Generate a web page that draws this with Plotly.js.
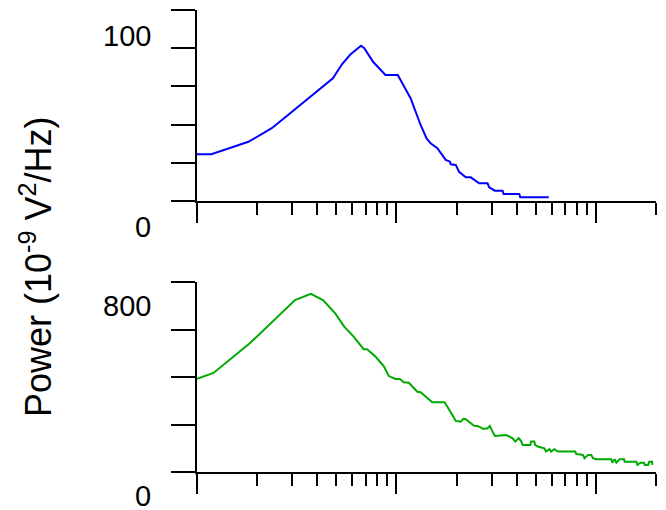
<!DOCTYPE html>
<html>
<head>
<meta charset="utf-8">
<script src="https://cdn.plot.ly/plotly-3.0.1.min.js"></script>
<style>html,body{margin:0;padding:0;background:#fff;}#chart{width:666px;height:510px;}</style>
</head>
<body>
<div id="chart"></div>
<script>
// Frequency (Hz, log axis) and power (10^-9 V^2/Hz)
var freqTop = [1.00,1.18,1.81,2.37,2.82,4.80,5.33,5.87,6.64,6.90,7.63,8.80,10.15,11.23,11.77,13.21,14.16,14.83,16.03,17.65,18.55,18.70,19.82,20.59,22.25,23.58,25.96,28.61,29.14,31.13,34.04,34.43,41.26,41.74,58.0];
var powerTop = [24.5,24.5,31.0,38.1,44.5,64.2,71.6,76.7,81.3,80.0,72.9,66.0,66.0,57.2,53.8,39.8,32.8,30.2,27.6,21.5,20.6,19.2,18.9,15.3,12.4,12.4,9.3,9.3,7.2,5.4,5.4,3.7,3.7,1.9,1.9];

var freqBot = [1.00,1.21,1.84,3.10,3.72,4.28,4.93,5.47,6.10,6.85,7.12,7.84,8.63,9.15,9.89,10.39,10.88,11.53,12.72,13.21,15.12,17.44,19.29,19.82,21.0,21.66,22.25,24.49,25.47,27.31,28.61,29.38,30.31,31.13,35.38,38.23,39.39,40.98,42.07,42.92,46.88,47.25,49.09,49.49,51.07,55.12,56.22,58.41,59.57,61.89,64.38,78.67,79.58,86.04,87.64,91.17,94.7,96.6,100.3,119.4,120.8,124.1,126.6,131.5,138.3,139.3,159.5,161.4,167.6,174.4,175.6,182.7,184.8,191.3,191.9];
var powerBot = [392,417,542,724,750,724,668,612,570,517,517,486,446,404,392,392,378,376,338,336,294,294,233,215,212,224,222,195,194,181,184,194,170,152,156,142,128,142,131,114,114,128,128,114,107,100,86,96,86,96,86,86,76,72,58,72,72,58,54,54,39,54,39,54,54,43,43,30,39,39,30,30,43,43,30];

var xMajor = [1, 10, 100];
var xMinor = [2,3,4,5,6,7,8,9,20,30,40,50,60,70,80,90,200];
var xMax = 200;
var topTicks = [0,20,40,60,80,100];
var botTicks = [0,200,400,600,800];
var topLabels = [{v:0,t:'0'},{v:100,t:'100'}];
var botLabels = [{v:0,t:'0'},{v:800,t:'800'}];
var yTitle = 'Power (10<sup>-9</sup> V<sup>2</sup>/Hz)';

var FONT = 'Arial, "Liberation Sans", sans-serif';

function xAxis(anchor) {
  return {
    type: 'log', range: [0, Math.log10(xMax)], anchor: anchor,
    domain: [197/666, 656/666],
    showgrid: false, zeroline: false, showline: true, linecolor: '#000', linewidth: 2,
    tickmode: 'array', tickvals: xMajor, ticks: 'outside', ticklen: 20, tickwidth: 2, tickcolor: '#000',
    showticklabels: false,
    minor: {tickmode: 'array', tickvals: xMinor, ticks: 'outside', ticklen: 12, tickwidth: 2, tickcolor: '#000', showgrid: false},
    automargin: false, fixedrange: true
  };
}
function yAxis(anchor, dom, rng, tv) {
  return {
    domain: dom, range: rng, anchor: anchor,
    showgrid: false, zeroline: false, showline: true, linecolor: '#000', linewidth: 2,
    tickmode: 'array', tickvals: tv, ticks: 'outside', ticklen: 24, tickwidth: 2, tickcolor: '#000',
    showticklabels: false, automargin: false, fixedrange: true
  };
}

var traces = [
  {x: freqTop, y: powerTop, xaxis: 'x', yaxis: 'y', mode: 'lines', line: {color: '#0000ff', width: 2}, hoverinfo: 'skip'},
  {x: freqBot, y: powerBot, xaxis: 'x2', yaxis: 'y2', mode: 'lines', line: {color: '#00aa00', width: 2}, hoverinfo: 'skip'}
];

var ann = [];
topLabels.forEach(function(l){
  ann.push({xref:'paper', yref:'y', x:153/666, y:l.v, xanchor:'right', yanchor:'middle', yshift:-26, text:l.t, showarrow:false, font:{family:FONT, size:29, color:'#000'}});
});
botLabels.forEach(function(l){
  ann.push({xref:'paper', yref:'y2', x:153/666, y:l.v, xanchor:'right', yanchor:'middle', yshift:-24, text:l.t, showarrow:false, font:{family:FONT, size:29, color:'#000'}});
});
ann.push({xref:'paper', yref:'paper', x:36/666, y:1-267/510, xanchor:'center', yanchor:'middle', textangle:-90, text:yTitle, showarrow:false, font:{family:FONT, size:36, color:'#000'}});

var layout = {
  width: 666, height: 510,
  margin: {l:0, r:0, t:0, b:0, autoexpand:false},
  paper_bgcolor: '#fff', plot_bgcolor: '#fff',
  showlegend: false,
  xaxis: xAxis('y'),
  yaxis: yAxis('x', [1-201/510, 1-10/510], [0,100], topTicks),
  xaxis2: xAxis('y2'),
  yaxis2: yAxis('x2', [1-472/510, 1-282/510], [0,800], botTicks),
  annotations: ann,
  font: {family: FONT}
};

Plotly.newPlot('chart', traces, layout, {staticPlot: true, displayModeBar: false});
</script>
</body>
</html>
